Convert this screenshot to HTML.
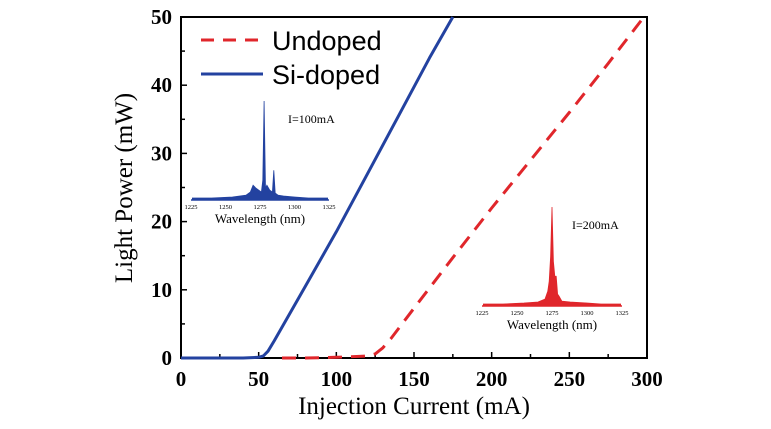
<!DOCTYPE html>
<html><head><meta charset="utf-8"><style>
html,body{margin:0;padding:0;background:#fff;}
svg{display:block;}
text{font-family:"Liberation Serif",serif;}
</style></head><body>
<svg id="chart" width="771" height="429" viewBox="0 0 771 429" xmlns="http://www.w3.org/2000/svg"></svg>
<script>
// Main chart data
const currentsSi = [0, 40, 50, 53, 56, 60, 80, 100, 120, 140, 160, 175];
const powerSi    = [0, 0, 0.1, 0.3, 1.0, 2.5, 10.5, 18.5, 27, 35.5, 44, 50];
const currentsUn = [65, 80, 100, 120, 125, 130, 135, 150, 175, 200, 225, 250, 275, 298];
const powerUn    = [0, 0, 0.1, 0.3, 0.6, 1.5, 2.8, 7.3, 14.7, 22.0, 29.0, 36.0, 43.2, 50];
const xTicks = [0, 50, 100, 150, 200, 250, 300];
const yTicks = [0, 10, 20, 30, 40, 50];
// Inset spectra data (wavelength nm, relative intensity)
const specWl1 = [1226,1240,1255,1265,1268,1270,1272,1274,1276,1277,1278,1279,1280,1282,1284,1285,1286,1288,1292,1300,1310,1324];
const specI1  = [0.02,0.02,0.03,0.05,0.08,0.15,0.12,0.1,0.08,0.2,1.0,0.12,0.15,0.1,0.08,0.3,0.07,0.05,0.04,0.03,0.02,0.02];
const specWl2 = [1226,1240,1255,1265,1270,1272,1273,1274,1275,1276,1277,1278,1279,1280,1282,1288,1300,1310,1324];
const specI2  = [0.02,0.02,0.03,0.04,0.07,0.15,0.25,0.5,1.0,0.45,0.3,0.3,0.12,0.1,0.05,0.04,0.03,0.02,0.02];
const insetTicks = [1225, 1250, 1275, 1300, 1325];

const NS = "http://www.w3.org/2000/svg";
const svg = document.getElementById('chart');
const X0 = 181, X1 = 647, Y0 = 358, Y1 = 17;
const xs = v => X0 + (v / 300) * (X1 - X0);
const ys = v => Y0 - (v / 50) * (Y0 - Y1);
function el(tag, attrs, parent) {
  const e = document.createElementNS(NS, tag);
  for (const k in attrs) e.setAttribute(k, attrs[k]);
  (parent || svg).appendChild(e);
  return e;
}
function txt(s, attrs, parent) { const t = el('text', attrs, parent); t.textContent = s; return t; }

const frame = el('rect', {x: X0, y: Y1, width: X1 - X0, height: Y0 - Y1, fill: 'none', stroke: '#000', 'stroke-width': 2});



const xAxis = el('g', {});


for (let v = 25; v < 300; v += 25) {
  const major = v % 50 === 0;
  el('line', {x1: xs(v), x2: xs(v), y1: Y0, y2: Y0 - (major ? 6 : 4), stroke: '#000', 'stroke-width': 1.5}, xAxis);
}
xTicks.forEach(v => {
  const t = txt(String(v), {x: xs(v), y: 386, 'text-anchor': 'middle', 'font-size': 21, 'font-weight': 'bold'}, xAxis);
  
  
});
const xt = txt('Injection Current (mA)', {x: 414, y: 414, 'text-anchor': 'middle', 'font-size': 25}, xAxis);



const yAxis = el('g', {});


for (let v = 5; v < 50; v += 5) {
  const major = v % 10 === 0;
  el('line', {x1: X0, x2: X0 + (major ? 6 : 4), y1: ys(v), y2: ys(v), stroke: '#000', 'stroke-width': 1.5}, yAxis);
}
yTicks.forEach(v => {
  const t = txt(String(v), {x: 172, y: ys(v) + 7, 'text-anchor': 'end', 'font-size': 21, 'font-weight': 'bold'}, yAxis);
  
  
});
const yt = txt('Light Power (mW)', {x: 132, y: 188, 'text-anchor': 'middle', 'font-size': 25, transform: 'rotate(-90 132 188)'}, yAxis);



function pts(xa, ya) { return xa.map((x, i) => xs(x).toFixed(1) + ',' + ys(ya[i]).toFixed(1)).join(' '); }
const un = el('polyline', {points: pts(currentsUn, powerUn), fill: 'none', stroke: '#e0262b', 'stroke-width': 3, 'stroke-dasharray': '14 9', 'stroke-linejoin': 'round'});


const si = el('polyline', {points: pts(currentsSi, powerSi), fill: 'none', stroke: '#2342a0', 'stroke-width': 3, 'stroke-linejoin': 'round'});



const lg = el('g', {});


el('line', {x1: 201, x2: 263, y1: 40, y2: 40, stroke: '#e0262b', 'stroke-width': 3, 'stroke-dasharray': '13 9'}, lg);
txt('Undoped', {x: 272, y: 50, 'font-size': 27, style: 'font-family:"Liberation Sans",sans-serif'}, lg);
el('line', {x1: 201, x2: 263, y1: 74, y2: 74, stroke: '#2342a0', 'stroke-width': 3}, lg);
txt('Si-doped', {x: 272, y: 84, 'font-size': 27, style: 'font-family:"Liberation Sans",sans-serif'}, lg);

function inset(name, wl, inten, color, ax0, ax1, base, h, label, lx, ly) {
  const g = el('g', {});
  
  
  const wx = w => ax0 + (w - 1225) / 100 * (ax1 - ax0);
  const iy = v => base - v * h;
  let d = 'M' + wx(wl[0]) + ',' + base;
  wl.forEach((w, i) => { d += ' L' + wx(w).toFixed(1) + ',' + iy(inten[i]).toFixed(1); });
  d += ' L' + wx(wl[wl.length - 1]) + ',' + base + 'Z';
  el('path', {d: d, fill: color, stroke: color, 'stroke-width': 0.8}, g);
  el('line', {x1: ax0, x2: ax1, y1: base, y2: base, stroke: color, 'stroke-width': 1.5}, g);
  insetTicks.forEach(t => {
    txt(String(t), {x: wx(t), y: base + 9, 'text-anchor': 'middle', 'font-size': 6.5}, g);
  });
  txt('Wavelength (nm)', {x: (ax0 + ax1) / 2, y: base + 23, 'text-anchor': 'middle', 'font-size': 13}, g);
  txt(label, {x: lx, y: ly, 'font-size': 12}, g);
}
inset('inset-spectrum-100ma', specWl1, specI1, '#2342a0', 191, 329, 200, 99, 'I=100mA', 288, 123);
inset('inset-spectrum-200ma', specWl2, specI2, '#e0262b', 482, 622, 306, 99, 'I=200mA', 572, 229);
</script>
</body></html>
